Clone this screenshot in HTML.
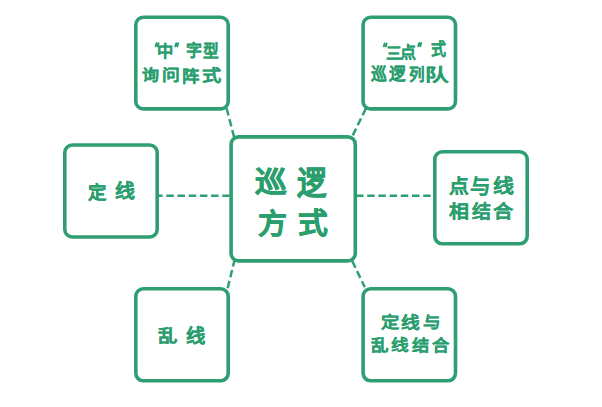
<!DOCTYPE html>
<html lang="zh-CN">
<head>
<meta charset="utf-8">
<style>
html,body{margin:0;padding:0;background:#fff;}
body{width:602px;height:407px;position:relative;overflow:hidden;font-family:"Liberation Sans",sans-serif;}
svg{position:absolute;left:0;top:0;}
span{position:absolute;display:block;color:#2a9e6e;font-weight:bold;white-space:nowrap;line-height:1;transform-origin:0 0;-webkit-text-stroke:0em #2a9e6e;}
</style>
</head>
<body>
<svg width="602" height="407" viewBox="0 0 602 407">
<g fill="none" stroke="#2f9e72" stroke-width="3.6">
<rect x="135.8" y="17.3" width="92.4" height="91.6" rx="7.5"/>
<rect x="363.1" y="17.3" width="92.4" height="91.6" rx="7.5"/>
<rect x="64.8" y="145" width="92.4" height="92" rx="7.5"/>
<rect x="231.1" y="136.9" width="124.2" height="124" rx="7.5"/>
<rect x="434.8" y="151.8" width="92.4" height="92" rx="7.5"/>
<rect x="135.8" y="288.8" width="92.4" height="92" rx="7.5"/>
<rect x="363.1" y="288.8" width="92.4" height="92" rx="7.5"/>
</g>
<g fill="none" stroke="#2f9e72" stroke-width="2.5" stroke-dasharray="7.5 3.7">
<line x1="159" y1="195.8" x2="229.5" y2="195.8" stroke-dashoffset="3.9"/>
<line x1="356" y1="195.8" x2="433" y2="195.8"/>
<line x1="226.6" y1="108.3" x2="234.2" y2="137.5"/>
<line x1="365.9" y1="108.5" x2="352.2" y2="136.6"/>
<line x1="227.7" y1="288.2" x2="234.3" y2="261"/>
<line x1="352.2" y1="261" x2="364.8" y2="287.2"/>
</g>
<g fill="none" stroke="#2a9e6e" stroke-width="1.9" stroke-linecap="round">
<path d="M156.6 43.2L155.6 46.4M158.6 43.2L157.6 46.4"/>
<path d="M176.2 43.2L175.2 46.4M178.2 43.2L177.2 46.4"/>
<path d="M384.6 43.4L383.8 46.4M386.6 43.4L385.8 46.4"/>
<path d="M419.2 43L418.2 46.2M421.2 43L420.2 46.2"/>
</g>
</svg>
<span style="left:156.94px;top:43.98px;font-size:15.98px;transform:scaleX(1.021);-webkit-text-stroke-width:0.01em">中</span>
<span style="left:186.15px;top:42.14px;font-size:16.38px;transform:scaleX(0.977);-webkit-text-stroke-width:0.01em">字</span>
<span style="left:203.01px;top:44.12px;font-size:16.57px;transform:scaleX(0.946);-webkit-text-stroke-width:0.01em">型</span>
<span style="left:141.66px;top:66.94px;font-size:15.27px;transform:scaleX(1.119);-webkit-text-stroke-width:0.01em">询</span>
<span style="left:161.74px;top:66.88px;font-size:15.25px;transform:scaleX(1.170);-webkit-text-stroke-width:0.01em">问</span>
<span style="left:181.82px;top:67.78px;font-size:16.44px;transform:scaleX(1.055);-webkit-text-stroke-width:0.01em">阵</span>
<span style="left:202.10px;top:67.57px;font-size:15.95px;transform:scaleX(1.204);-webkit-text-stroke-width:0.01em">式</span>
<span style="left:386.05px;top:44.87px;font-size:16.14px;transform:scaleX(0.977);-webkit-text-stroke-width:0.01em">三</span>
<span style="left:400.46px;top:44.28px;font-size:16.22px;transform:scaleX(0.989);-webkit-text-stroke-width:0.01em">点</span>
<span style="left:431.23px;top:42.02px;font-size:16.82px;transform:scaleX(0.893);-webkit-text-stroke-width:0.01em">式</span>
<span style="left:370.92px;top:66.38px;font-size:17.39px;transform:scaleX(0.903);-webkit-text-stroke-width:0.01em">巡</span>
<span style="left:388.80px;top:66.18px;font-size:17.30px;transform:scaleX(0.964);-webkit-text-stroke-width:0.01em">逻</span>
<span style="left:409.20px;top:65.60px;font-size:16.46px;transform:scaleX(0.947);-webkit-text-stroke-width:0.01em">列</span>
<span style="left:425.03px;top:67.32px;font-size:17.03px;transform:scaleX(1.383);-webkit-text-stroke-width:0.01em">队</span>
<span style="left:88.46px;top:184.09px;font-size:18.66px;transform:scaleX(0.990);-webkit-text-stroke-width:0.01em">定</span>
<span style="left:114.96px;top:182.28px;font-size:19.89px;transform:scaleX(1.001);-webkit-text-stroke-width:0.01em">线</span>
<span style="left:448.81px;top:177.18px;font-size:19.89px;transform:scaleX(0.995);-webkit-text-stroke-width:0.01em">点</span>
<span style="left:470.40px;top:177.53px;font-size:19.91px;transform:scaleX(1.025);-webkit-text-stroke-width:0.01em">与</span>
<span style="left:492.94px;top:177.28px;font-size:19.89px;transform:scaleX(1.053);-webkit-text-stroke-width:0.01em">线</span>
<span style="left:449.08px;top:203.84px;font-size:17.86px;transform:scaleX(1.114);-webkit-text-stroke-width:0.01em">相</span>
<span style="left:471.84px;top:203.93px;font-size:17.77px;transform:scaleX(1.068);-webkit-text-stroke-width:0.01em">结</span>
<span style="left:493.26px;top:204.01px;font-size:17.68px;transform:scaleX(1.143);-webkit-text-stroke-width:0.01em">合</span>
<span style="left:254.52px;top:167.58px;font-size:28.61px;transform:scaleX(1.108);-webkit-text-stroke-width:0.02em">巡</span>
<span style="left:297.42px;top:167.50px;font-size:31.79px;transform:scaleX(0.925);-webkit-text-stroke-width:0.02em">逻</span>
<span style="left:257.54px;top:209.86px;font-size:28.97px;transform:scaleX(1.001);-webkit-text-stroke-width:0.02em">方</span>
<span style="left:297.55px;top:210.43px;font-size:29.02px;transform:scaleX(1.025);-webkit-text-stroke-width:0.02em">式</span>
<span style="left:157.98px;top:328.70px;font-size:16.70px;transform:scaleX(1.157);-webkit-text-stroke-width:0.01em">乱</span>
<span style="left:185.66px;top:327.14px;font-size:19.22px;transform:scaleX(1.008);-webkit-text-stroke-width:0.01em">线</span>
<span style="left:380.81px;top:314.23px;font-size:16.24px;transform:scaleX(1.126);-webkit-text-stroke-width:0.01em">定</span>
<span style="left:401.36px;top:315.48px;font-size:15.51px;transform:scaleX(1.206);-webkit-text-stroke-width:0.01em">线</span>
<span style="left:422.71px;top:315.17px;font-size:15.82px;transform:scaleX(1.109);-webkit-text-stroke-width:0.01em">与</span>
<span style="left:370.69px;top:337.47px;font-size:16.15px;transform:scaleX(1.089);-webkit-text-stroke-width:0.01em">乱</span>
<span style="left:390.64px;top:338.24px;font-size:14.77px;transform:scaleX(1.193);-webkit-text-stroke-width:0.01em">线</span>
<span style="left:411.74px;top:338.35px;font-size:15.90px;transform:scaleX(1.083);-webkit-text-stroke-width:0.01em">结</span>
<span style="left:431.82px;top:338.46px;font-size:15.82px;transform:scaleX(1.099);-webkit-text-stroke-width:0.01em">合</span>
</body>
</html>
